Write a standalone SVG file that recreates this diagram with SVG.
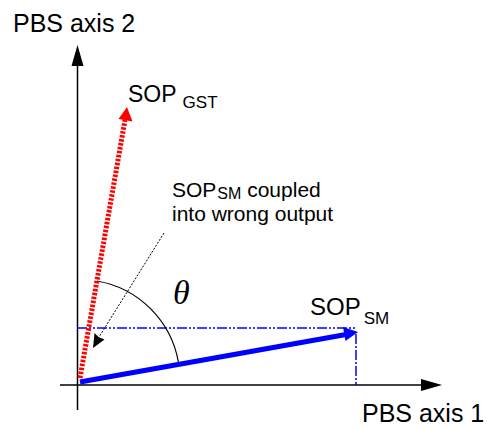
<svg xmlns="http://www.w3.org/2000/svg" width="487" height="428" viewBox="0 0 487 428">
<style>
.lbl{font-family:"Liberation Sans",Arial,sans-serif;fill:#000}
.ax{stroke:#000;stroke-width:1.5;fill:none}
</style>
<rect width="487" height="428" fill="#fff"/>
<g id="axes">
<line class="ax" x1="77.5" y1="62" x2="77.5" y2="410"/>
<polygon points="77.5,45 71.5,66 83.5,66" fill="#000"/>
<line class="ax" x1="60" y1="385" x2="425" y2="385"/>
<polygon points="442,385 421,379 421,391" fill="#000"/>
<text class="lbl" x="13" y="32" font-size="25">PBS axis 2</text>
<text class="lbl" x="362" y="422" font-size="25">PBS axis 1</text>
</g>
<g id="connectors">
<line x1="77" y1="328" x2="356" y2="328" stroke="#0000ff" stroke-width="1.5" stroke-dasharray="10 2 2 2 2 2"/>
<line x1="356" y1="334" x2="356" y2="385" stroke="#0000ff" stroke-width="1.5" stroke-dasharray="10 2 2 2"/>
<path d="M97 281 A100 100 0 0 1 178.5 362.6" fill="none" stroke="#000" stroke-width="1.2"/>
<line x1="164" y1="233" x2="99" y2="337" stroke="#000" stroke-width="1" stroke-dasharray="2 1.5"/>
<polygon points="93,348 94.5,333 98.5,337 104.5,339.5" fill="#000"/>
</g>
<g id="sop-gst">
<line x1="80" y1="378" x2="125" y2="120" stroke="#ff0000" stroke-width="5" stroke-dasharray="2.5 1.5"/>
<polygon points="127,107 118.5,119 132.5,121.5" fill="#ff0000"/>
<text class="lbl" x="128" y="102" font-size="23">SOP<tspan font-size="17" dx="6" dy="6">GST</tspan></text>
</g>
<g id="sop-sm">
<line x1="80" y1="382" x2="346" y2="334.5" stroke="#0000ff" stroke-width="5"/>
<polygon points="358,332 343,327 345.5,341" fill="#0000ff"/>
<text class="lbl" x="310" y="315" font-size="24">SOP<tspan font-size="17" dx="3" dy="9">SM</tspan></text>
</g>
<g id="annotation">
<text class="lbl" x="172" y="197" font-size="21">SOP<tspan font-size="16" dx="1" dy="2">SM</tspan><tspan dy="-2"> coupled</tspan></text>
<text class="lbl" x="172" y="221" font-size="21">into wrong output</text>
</g>
<g id="theta">
<text x="173" y="304" font-family="'Liberation Serif','Times New Roman',serif" font-style="italic" font-size="34">θ</text>
</g>
</svg>
